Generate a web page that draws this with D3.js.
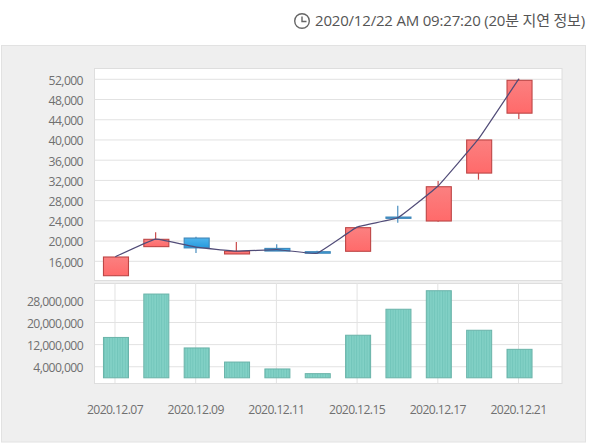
<!DOCTYPE html>
<html>
<head>
<meta charset="utf-8">
<script src="https://cdn.jsdelivr.net/npm/d3@7"></script>
<style>
  html, body { margin: 0; padding: 0; background: #fff; }
  svg { display: block; }
  text { font-family: "Open Sans", "Noto Sans CJK KR", sans-serif; }
  .axis path, .axis line { display: none; }
  .axis text { fill: #707070; font-size: 12.2px; letter-spacing: -0.6px; }
</style>
</head>
<body>
<div id="chart"></div>
<script>
const dates = ["2020.12.07", "2020.12.08", "2020.12.09", "2020.12.10", "2020.12.11", "2020.12.14",
               "2020.12.15", "2020.12.16", "2020.12.17", "2020.12.18", "2020.12.21"];
const opens  = [13150, 18900, 20600, 17450, 18550, 17900, 17980, 24750, 23970, 33450, 45300];
const closes = [16850, 20350, 18650, 17980, 18030, 17600, 22650, 24500, 30750, 40000, 51800];
const highs  = [16850, 21750, 20850, 19800, 19350, 18100, 22650, 27000, 31900, 40000, 52100];
const lows   = [13150, 18900, 17650, 17450, 18030, 17500, 17980, 23650, 23800, 32150, 44150];
const lineValues = [16900, 20400, 18800, 18000, 18300, 17600, 22800, 24600, 30900, 40200, 52100];
const volumes = [14600000, 30300000, 10800000, 5700000, 3200000, 1500000, 15400000, 24800000, 31500000, 17200000, 10300000];

const priceTicks = [16000, 20000, 24000, 28000, 32000, 36000, 40000, 44000, 48000, 52000];
const volumeTicks = [4000000, 12000000, 20000000, 28000000];
const dateTicks = ["2020.12.07", "2020.12.09", "2020.12.11", "2020.12.15", "2020.12.17", "2020.12.21"];
const stamp = "2020/12/22 AM 09:27:20 (20분 지연 정보)";

const width = 600;
const height = 443;
const plotLeft = 94.5;
const plotRight = 562;
const gridColor = "#e2e2e2";

const svg = d3.select("#chart")
  .append("svg")
  .attr("width", width)
  .attr("height", height);

const defs = svg.append("defs");

function addGradient(id, top, bottom) {
  const g = defs.append("linearGradient")
    .attr("id", id)
    .attr("x1", "0%").attr("x2", "0%")
    .attr("y1", "0%").attr("y2", "100%");
  g.append("stop").attr("offset", "0%").attr("stop-color", top);
  g.append("stop").attr("offset", "100%").attr("stop-color", bottom);
}
addGradient("up-fill", "#fb8080", "#ff6a6a");
addGradient("down-fill", "#4fb4ec", "#259ade");

// striped fill of the volume bars
const stripes = defs.append("pattern")
  .attr("id", "bar-stripes")
  .attr("patternUnits", "userSpaceOnUse")
  .attr("width", 2.6)
  .attr("height", 4);
stripes.append("rect").attr("width", 2.6).attr("height", 4).attr("fill", "#82d1c6");
stripes.append("rect").attr("width", 1).attr("height", 4).attr("fill", "#72c5ba");

// header
svg.append("text")
  .attr("x", 315)
  .attr("y", 25.5)
  .attr("font-size", 15)
  .attr("letter-spacing", -0.19)
  .attr("fill", "#555")
  .text(stamp);

const clock = svg.append("g")
  .attr("fill", "none")
  .attr("stroke", "#666")
  .attr("stroke-width", 1.4);
clock.append("circle").attr("cx", 302).attr("cy", 21).attr("r", 7.3);
clock.append("path").attr("d", "M302 16.5V21.5H306.5");

// outer panel
svg.append("rect")
  .attr("x", 1.5).attr("y", 45.5)
  .attr("width", 584).attr("height", 396.5)
  .attr("fill", "#efefef")
  .attr("stroke", "#e2e2e2");

// plot boxes
const priceTop = 68;
const priceBottom = 280;
const volumeTop = 283;
const volumeBottom = 383;

[[priceTop, priceBottom], [volumeTop, volumeBottom]].forEach(([t, b]) => {
  svg.append("rect")
    .attr("x", plotLeft).attr("y", t + 0.5)
    .attr("width", plotRight - plotLeft).attr("height", b - t)
    .attr("fill", "#fff")
    .attr("stroke", "#dedede");
});

const x = d3.scaleBand()
  .domain(dates)
  .range([95.8, 539.7])
  .paddingInner(0.38)
  .paddingOuter(0.19);

const xCenter = d => x(d) + x.bandwidth() / 2;

const yPrice = d3.scaleLinear().domain([16000, 52000]).range([261.3, 79.3]);
const yVolume = d3.scaleLinear().domain([0, 28000000]).range([377.8, 300.4]);

// gridlines
svg.append("g").selectAll("line")
  .data(priceTicks)
  .enter()
  .append("line")
  .attr("x1", plotLeft).attr("x2", plotRight)
  .attr("y1", d => yPrice(d)).attr("y2", d => yPrice(d))
  .attr("stroke", gridColor);

svg.append("g").selectAll("line")
  .data(volumeTicks)
  .enter()
  .append("line")
  .attr("x1", plotLeft).attr("x2", plotRight)
  .attr("y1", d => yVolume(d)).attr("y2", d => yVolume(d))
  .attr("stroke", gridColor);

svg.append("g").selectAll("line")
  .data(dateTicks)
  .enter()
  .append("line")
  .attr("x1", d => xCenter(d) - 1).attr("x2", d => xCenter(d) - 1)
  .attr("y1", volumeTop).attr("y2", volumeBottom)
  .attr("stroke", gridColor);

// axes
svg.append("g")
  .attr("class", "axis")
  .attr("transform", "translate(86,1)")
  .call(d3.axisLeft(yPrice).tickValues(priceTicks).tickFormat(d3.format(",")).tickSize(0));

svg.append("g")
  .attr("class", "axis")
  .attr("transform", "translate(86,1)")
  .call(d3.axisLeft(yVolume).tickValues(volumeTicks).tickFormat(d3.format(",")).tickSize(0));

svg.append("g")
  .attr("class", "axis")
  .attr("transform", "translate(-1,402)")
  .call(d3.axisBottom(x).tickValues(dateTicks).tickSize(0));

// candles
const candles = dates.map((d, i) => ({
  date: d, open: opens[i], close: closes[i], high: highs[i], low: lows[i], up: closes[i] >= opens[i]
}));

svg.append("g").selectAll("line")
  .data(candles)
  .enter()
  .append("line")
  .attr("x1", d => xCenter(d.date) - 0.7).attr("x2", d => xCenter(d.date) - 0.7)
  .attr("y1", d => yPrice(d.high)).attr("y2", d => yPrice(d.low))
  .attr("stroke", d => d.up ? "#c94a4a" : "#4a8fc0")
  .attr("stroke-width", 1.2);

svg.append("g").selectAll("rect")
  .data(candles)
  .enter()
  .append("rect")
  .attr("x", d => x(d.date))
  .attr("y", d => yPrice(Math.max(d.open, d.close)))
  .attr("width", x.bandwidth())
  .attr("height", d => Math.abs(yPrice(d.open) - yPrice(d.close)))
  .attr("fill", d => d.up ? "url(#up-fill)" : "url(#down-fill)")
  .attr("stroke", d => d.up ? "#bd4646" : "#3f86b8")
  .attr("stroke-width", 1.1);

// trend line
const line = d3.line()
  .x((d, i) => xCenter(dates[i]) - 0.7)
  .y(d => yPrice(d))
  .curve(d3.curveCardinal.tension(0.75));

svg.append("path")
  .datum(lineValues)
  .attr("d", line)
  .attr("fill", "none")
  .attr("stroke", "#514c78")
  .attr("stroke-width", 1.2);

// volume bars
svg.append("g").selectAll("rect")
  .data(volumes)
  .enter()
  .append("rect")
  .attr("x", (d, i) => x(dates[i]))
  .attr("y", d => yVolume(d))
  .attr("width", x.bandwidth())
  .attr("height", d => yVolume(0) - yVolume(d))
  .attr("fill", "url(#bar-stripes)")
  .attr("stroke", "#6ab3a9")
  .attr("stroke-width", 1);
</script>
</body>
</html>
